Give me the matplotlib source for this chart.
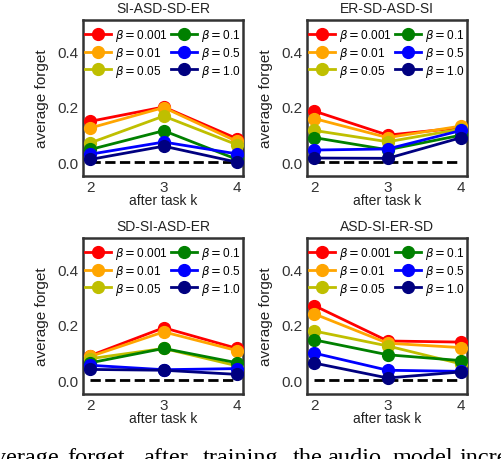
import matplotlib
matplotlib.use("Agg")
import matplotlib.pyplot as plt

plt.rcParams['font.family'] = ['Liberation Sans', 'DejaVu Sans']
plt.rcParams['mathtext.fontset'] = 'dejavusans'

tasks = [2, 3, 4]
betas = ["0.001", "0.01", "0.05", "0.1", "0.5", "1.0"]
colors = ["red", "orange", "y", "green", "blue", "navy"]

titles = ["SI-ASD-SD-ER", "ER-SD-ASD-SI", "SD-SI-ASD-ER", "ASD-SI-ER-SD"]

forget_si_asd_sd_er = [
    [0.148, 0.200, 0.085],
    [0.124, 0.198, 0.075],
    [0.070, 0.167, 0.063],
    [0.046, 0.114, 0.010],
    [0.029, 0.073, 0.030],
    [0.010, 0.058, 0.000],
]
forget_er_sd_asd_si = [
    [0.185, 0.098, 0.125],
    [0.158, 0.089, 0.131],
    [0.115, 0.074, 0.120],
    [0.089, 0.045, 0.098],
    [0.044, 0.048, 0.115],
    [0.015, 0.014, 0.089],
]
forget_sd_si_asd_er = [
    [0.089, 0.190, 0.115],
    [0.086, 0.175, 0.107],
    [0.078, 0.115, 0.052],
    [0.063, 0.115, 0.063],
    [0.054, 0.038, 0.042],
    [0.039, 0.036, 0.021],
]
forget_asd_si_er_sd = [
    [0.270, 0.142, 0.138],
    [0.240, 0.134, 0.118],
    [0.178, 0.124, 0.059],
    [0.146, 0.092, 0.071],
    [0.098, 0.036, 0.032],
    [0.062, 0.008, 0.030],
]
all_data = [forget_si_asd_sd_er, forget_er_sd_asd_si, forget_sd_si_asd_er, forget_asd_si_er_sd]

caption_words = ["average", "forget", "after", "training", "the", "audio", "model", "incrementally"]

fig = plt.figure(figsize=(5.02, 4.6), dpi=100)
W, H = 502, 460
boxes = [(83, 21, 243, 177), (307, 21, 467, 177), (83, 239, 243, 395), (307, 239, 467, 395)]

for i, (box, data, title) in enumerate(zip(boxes, all_data, titles)):
    l, t, r, b = box
    ax = fig.add_axes([l / W, 1 - b / H, (r - l) / W, (b - t) / H])
    for vals, c, bt in zip(data, colors, betas):
        ax.plot(tasks, vals, '-o', color=c, lw=2, ms=8.5, label=r'$\beta = $' + bt, zorder=3)
    ax.plot(tasks, [0, 0, 0], '--', color='black', lw=2, zorder=2)
    ax.set_xlim(1.9, 4.08)
    ax.set_ylim(-0.05, 0.515)
    ax.set_xticks(tasks)
    ax.set_yticks([0.0, 0.2, 0.4])
    ax.tick_params(axis='both', labelsize=11, colors='#333333', length=0, pad=3)
    for s in ax.spines.values():
        s.set_color('#333333')
        s.set_linewidth(1.8)
    ax.set_title(title, fontsize=10, color='#222222', pad=6)
    ax.set_xlabel('after task k', fontsize=10, color='#222222', labelpad=-1)
    ax.set_ylabel('average forget', fontsize=11, color='#222222', labelpad=6)
    ax.legend(ncol=2, loc='upper center', fontsize=8.5, frameon=False,
              handlelength=2.2, handletextpad=0.4, columnspacing=0.2,
              labelspacing=0.15, borderaxespad=0.2, bbox_to_anchor=(0.5, 1.0))

# caption (justified in the source, cut at the bottom edge)
word_x = [-17, 67, 143, 203, 293, 327, 393, 460]
for wx, w in zip(word_x, caption_words):
    fig.text(wx / W, 1 - 464 / H, w,
             family=['Liberation Serif', 'DejaVu Serif'], fontsize=17.5, ha='left',
             va='baseline', color='black')

fig.savefig("out.png", dpi=100)
